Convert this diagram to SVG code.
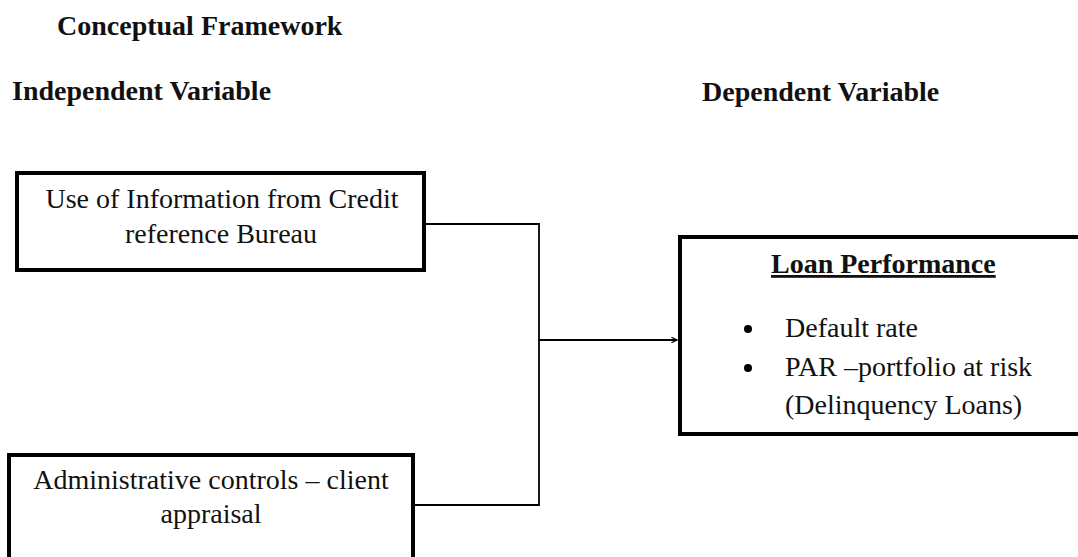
<svg xmlns="http://www.w3.org/2000/svg" width="1078" height="557" viewBox="0 0 1078 557">
<style>
text{font-family:"Liberation Serif","Times New Roman",serif;font-size:28px;fill:#111}
.b{font-weight:bold}
.box{fill:#fff;stroke:#000;stroke-width:4}
.con{fill:none;stroke:#000;stroke-width:1.8}
</style>
<defs>
<marker id="arr" viewBox="0 0 10 10" refX="9" refY="5" markerWidth="7" markerHeight="7" markerUnits="userSpaceOnUse" orient="auto">
<path d="M1,1 L9,5 L1,9" fill="none" stroke="#000" stroke-width="1.6"/>
</marker>
</defs>
<rect width="1078" height="557" fill="#fff"/>
<g id="titles">
<text class="b" x="57" y="35">Conceptual Framework</text>
<text class="b" x="12" y="100">Independent Variable</text>
<text class="b" x="702" y="101">Dependent Variable</text>
</g>
<g id="connectors">
<polyline class="con" points="426,224 539,224 539,505 414,505"/>
<line class="con" x1="539" y1="340" x2="677" y2="340" marker-end="url(#arr)"/>
</g>
<g id="node-credit">
<rect class="box" x="17" y="173" width="407" height="97"/>
<text x="222" y="208" text-anchor="middle">Use of Information from Credit</text>
<text x="221" y="243" text-anchor="middle">reference Bureau</text>
</g>
<g id="node-admin">
<rect class="box" x="9" y="455" width="404" height="120"/>
<text x="211" y="489" text-anchor="middle">Administrative controls – client</text>
<text x="211" y="523" text-anchor="middle">appraisal</text>
</g>
<g id="node-loan">
<rect class="box" x="680" y="237" width="420" height="197"/>
<text class="b" x="771" y="273" text-decoration="underline">Loan Performance</text>
<circle cx="748" cy="329" r="4" fill="#000"/>
<text x="785" y="337">Default rate</text>
<circle cx="748" cy="368" r="4" fill="#000"/>
<text x="785" y="376">PAR –portfolio at risk</text>
<text x="785" y="414">(Delinquency Loans)</text>
</g>
</svg>
